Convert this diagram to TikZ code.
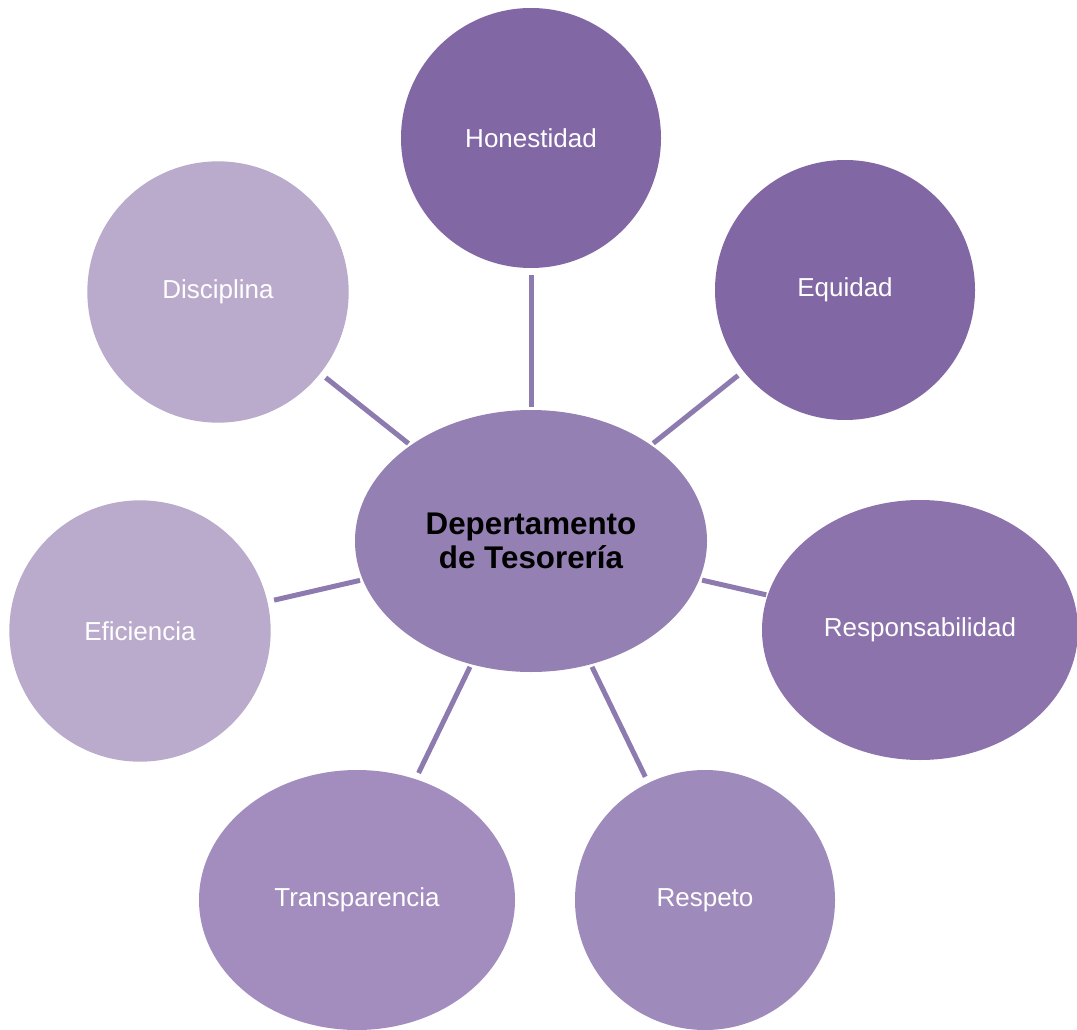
\documentclass[tikz,border=0pt]{standalone}
\usepackage{fontspec}
\setmainfont{Liberation Sans}
\usetikzlibrary{shapes.geometric}

\definecolor{valdark}{HTML}{8267A5}
\definecolor{valmid}{HTML}{A28DBE}
\definecolor{vallight}{HTML}{BAABCD}
\definecolor{depfill}{HTML}{9580B3}
\definecolor{linkcol}{HTML}{8D7BB0}

\tikzset{
  value/.style={ellipse, inner sep=0pt, text=white, font=\fontsize{19.5}{23}\selectfont},
  link/.style={draw=linkcol, line width=3.75pt, shorten <=2pt, shorten >=5pt}
}

\begin{document}
\begin{tikzpicture}[x=0.75pt, y=-0.75pt]
		\useasboundingbox (0,0) rectangle (1077,1030);
		\coordinate (centre)  at (531, 541);
		\coordinate (honest)  at (531, 138);
		\coordinate (equity)  at (845, 290);
		\coordinate (discip)  at (218, 292);
		\coordinate (effic)   at (140, 631);
		\coordinate (respon)  at (920, 630);
		\coordinate (transp)  at (357, 900);
		\coordinate (respect) at (705, 900);

		\node[ellipse, inner sep=0pt, fill=depfill, minimum width=264pt, minimum height=196.5pt, align=center, font=\fontsize{23.5}{26}\selectfont\bfseries] (DEP) at (centre) {Depertamento\\de Tesorería};
		\node[value, fill=valdark, minimum width=195pt, minimum height=195pt] (HON) at (honest) {Honestidad};
		\node[value, fill=valdark, minimum width=195pt, minimum height=195pt] (EQU) at (equity) {Equidad};
		\node[value, fill=vallight, minimum width=196pt, minimum height=196pt] (DIS) at (discip) {Disciplina};
		\node[value, fill=vallight, minimum width=196pt, minimum height=196pt] (EFI) at (effic) {Eficiencia};
		\node[value, fill=valdark!92!white, minimum width=237pt, minimum height=195pt] (RES) at (respon) {Responsabilidad};
		\node[value, fill=valmid, minimum width=237pt, minimum height=195pt] (TRA) at (transp) {Transparencia};
		\node[value, fill=valmid!92!valdark, minimum width=195pt, minimum height=195pt] (RSP) at (respect) {Respeto};

		\draw[link] (DEP) -- (HON);
		\draw[link] (DEP) -- (EQU);
		\draw[link] (DEP) -- (DIS);
		\draw[link] (DEP) -- (EFI);
		\draw[link, shorten >=1pt] (DEP) -- (RES);
		\draw[link] (DEP) -- (TRA);
		\draw[link] (DEP) -- (RSP);
	\end{tikzpicture}
\end{document}
